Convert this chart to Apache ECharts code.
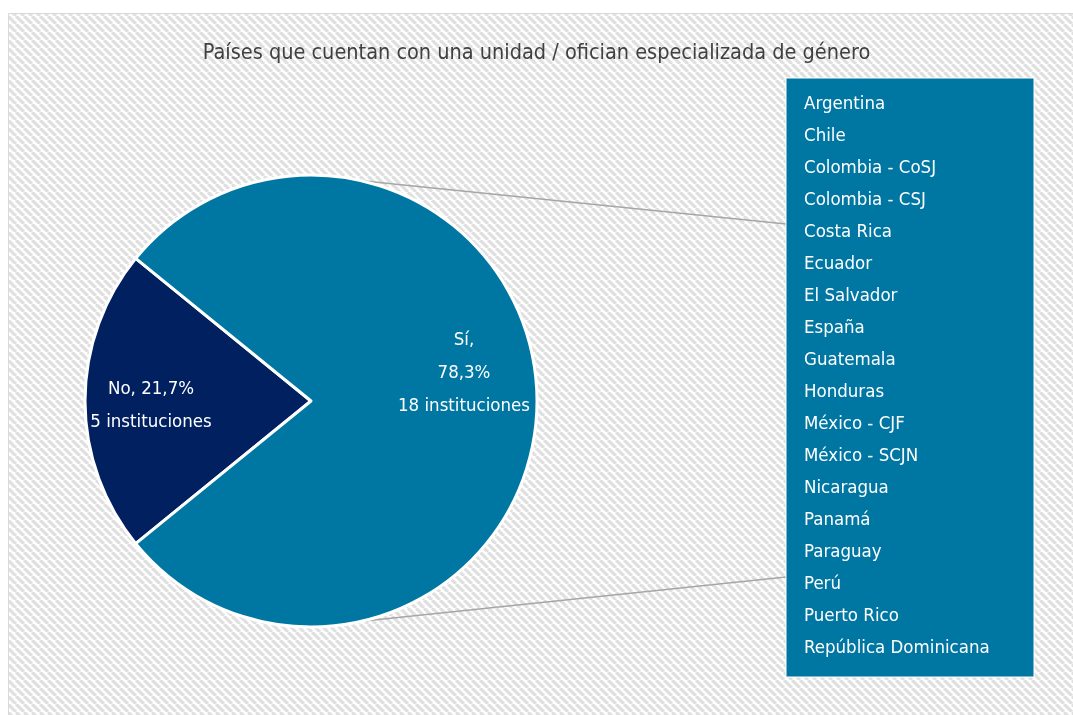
<!DOCTYPE html>
<html>
<head>
<meta charset="utf-8">
<script src="https://cdn.jsdelivr.net/npm/echarts@6/dist/echarts.min.js"></script>
<style>
  html, body { margin: 0; padding: 0; background: #fff; }
  #chart { width: 1073px; height: 715px; }
</style>
</head>
<body>
<div id="chart"></div>
<script>
const title = 'Países que cuentan con una unidad / ofician especializada de género'
const sliceNames = ['No', 'Sí']
const sliceValues = [5, 18]
const slicePercents = ['21,7%', '78,3%']
const countries = [
  'Argentina', 'Chile', 'Colombia - CoSJ', 'Colombia - CSJ', 'Costa Rica',
  'Ecuador', 'El Salvador', 'España', 'Guatemala', 'Honduras',
  'México - CJF', 'México - SCJN', 'Nicaragua', 'Panamá', 'Paraguay',
  'Perú', 'Puerto Rico', 'República Dominicana',
]

const FONT = '"DejaVu Sans Condensed", "Liberation Sans Narrow", sans-serif'
const cx = 311, cy = 401, R = 226
const box = { x: 786, y: 78, w: 248, h: 599 }

// diagonal hatch for the plot background
function hatch() {
  const s = 8
  const c = document.createElement('canvas')
  c.width = s; c.height = s
  const g = c.getContext('2d')
  g.fillStyle = '#ffffff'
  g.fillRect(0, 0, s, s)
  g.strokeStyle = '#e0e0e0'
  g.lineWidth = 3.3
  for (const k of [-s, 0, s]) {
    g.beginPath()
    g.moveTo(k, 0)
    g.lineTo(k + s, s)
    g.stroke()
  }
  return c
}

const chart = echarts.init(document.getElementById('chart'))

// Sí slice is symmetric around 0°, so No starts at 180° + half its sweep
const noSweep = 360 * sliceValues[0] / (sliceValues[0] + sliceValues[1])
const startAngle = 180 + noSweep / 2

const a = 77 * Math.PI / 180
const topPt = [cx + R * Math.cos(a), cy - R * Math.sin(a)]
const botPt = [cx + R * Math.cos(a), cy + R * Math.sin(a)]

chart.setOption({
  animation: false,
  title: {
    text: title,
    left: 'center',
    top: 37,
    textStyle: { fontFamily: FONT, fontSize: 21.5, fontWeight: 'normal', color: '#404040' },
  },
  graphic: [
    {
      type: 'rect', z: -10, silent: true,
      shape: { x: 8.5, y: 13.5, width: 1080, height: 720 },
      style: { fill: { image: hatch(), repeat: 'repeat' }, stroke: '#d9d9d9', lineWidth: 1 },
    },
    {
      type: 'line', z: 1, silent: true,
      shape: { x1: topPt[0], y1: topPt[1], x2: box.x, y2: 224 },
      style: { stroke: '#a6a6a6', lineWidth: 1.5 },
    },
    {
      type: 'line', z: 1, silent: true,
      shape: { x1: botPt[0], y1: botPt[1], x2: box.x, y2: 577 },
      style: { stroke: '#a6a6a6', lineWidth: 1.5 },
    },
    {
      type: 'rect', z: 2, silent: true,
      shape: { x: box.x, y: box.y, width: box.w, height: box.h },
      style: { fill: '#0077a3', stroke: '#ffffff', lineWidth: 1 },
    },
    {
      type: 'text', z: 3, silent: true,
      x: 804, y: 88,
      style: {
        text: countries.join('\n'),
        fill: '#ffffff',
        font: '18.5px ' + FONT,
        lineHeight: 32,
        verticalAlign: 'top',
      },
    },
  ],
  series: [
    {
      type: 'pie',
      center: [cx, cy],
      radius: R,
      startAngle,
      clockwise: true,
      z: 5,
      itemStyle: { borderColor: '#ffffff', borderWidth: 3 },
      label: {
        show: true,
        position: 'inside',
        color: '#ffffff',
        fontFamily: FONT,
        fontSize: 18.5,
        lineHeight: 33,
        align: 'center',
      },
      labelLayout: (p) => p.dataIndex === 0 ? { dx: -44, dy: 5 } : { dx: 37, dy: -28 },
      data: sliceNames.map((n, i) => ({
        name: n,
        value: sliceValues[i],
        itemStyle: { color: i === 0 ? '#002060' : '#0077a3' },
        label: {
          formatter: i === 0
            ? `${n}, ${slicePercents[i]}\n${sliceValues[i]} instituciones`
            : `${n},\n${slicePercents[i]}\n${sliceValues[i]} instituciones`,
        },
      })),
    },
  ],
})
</script>
</body>
</html>
